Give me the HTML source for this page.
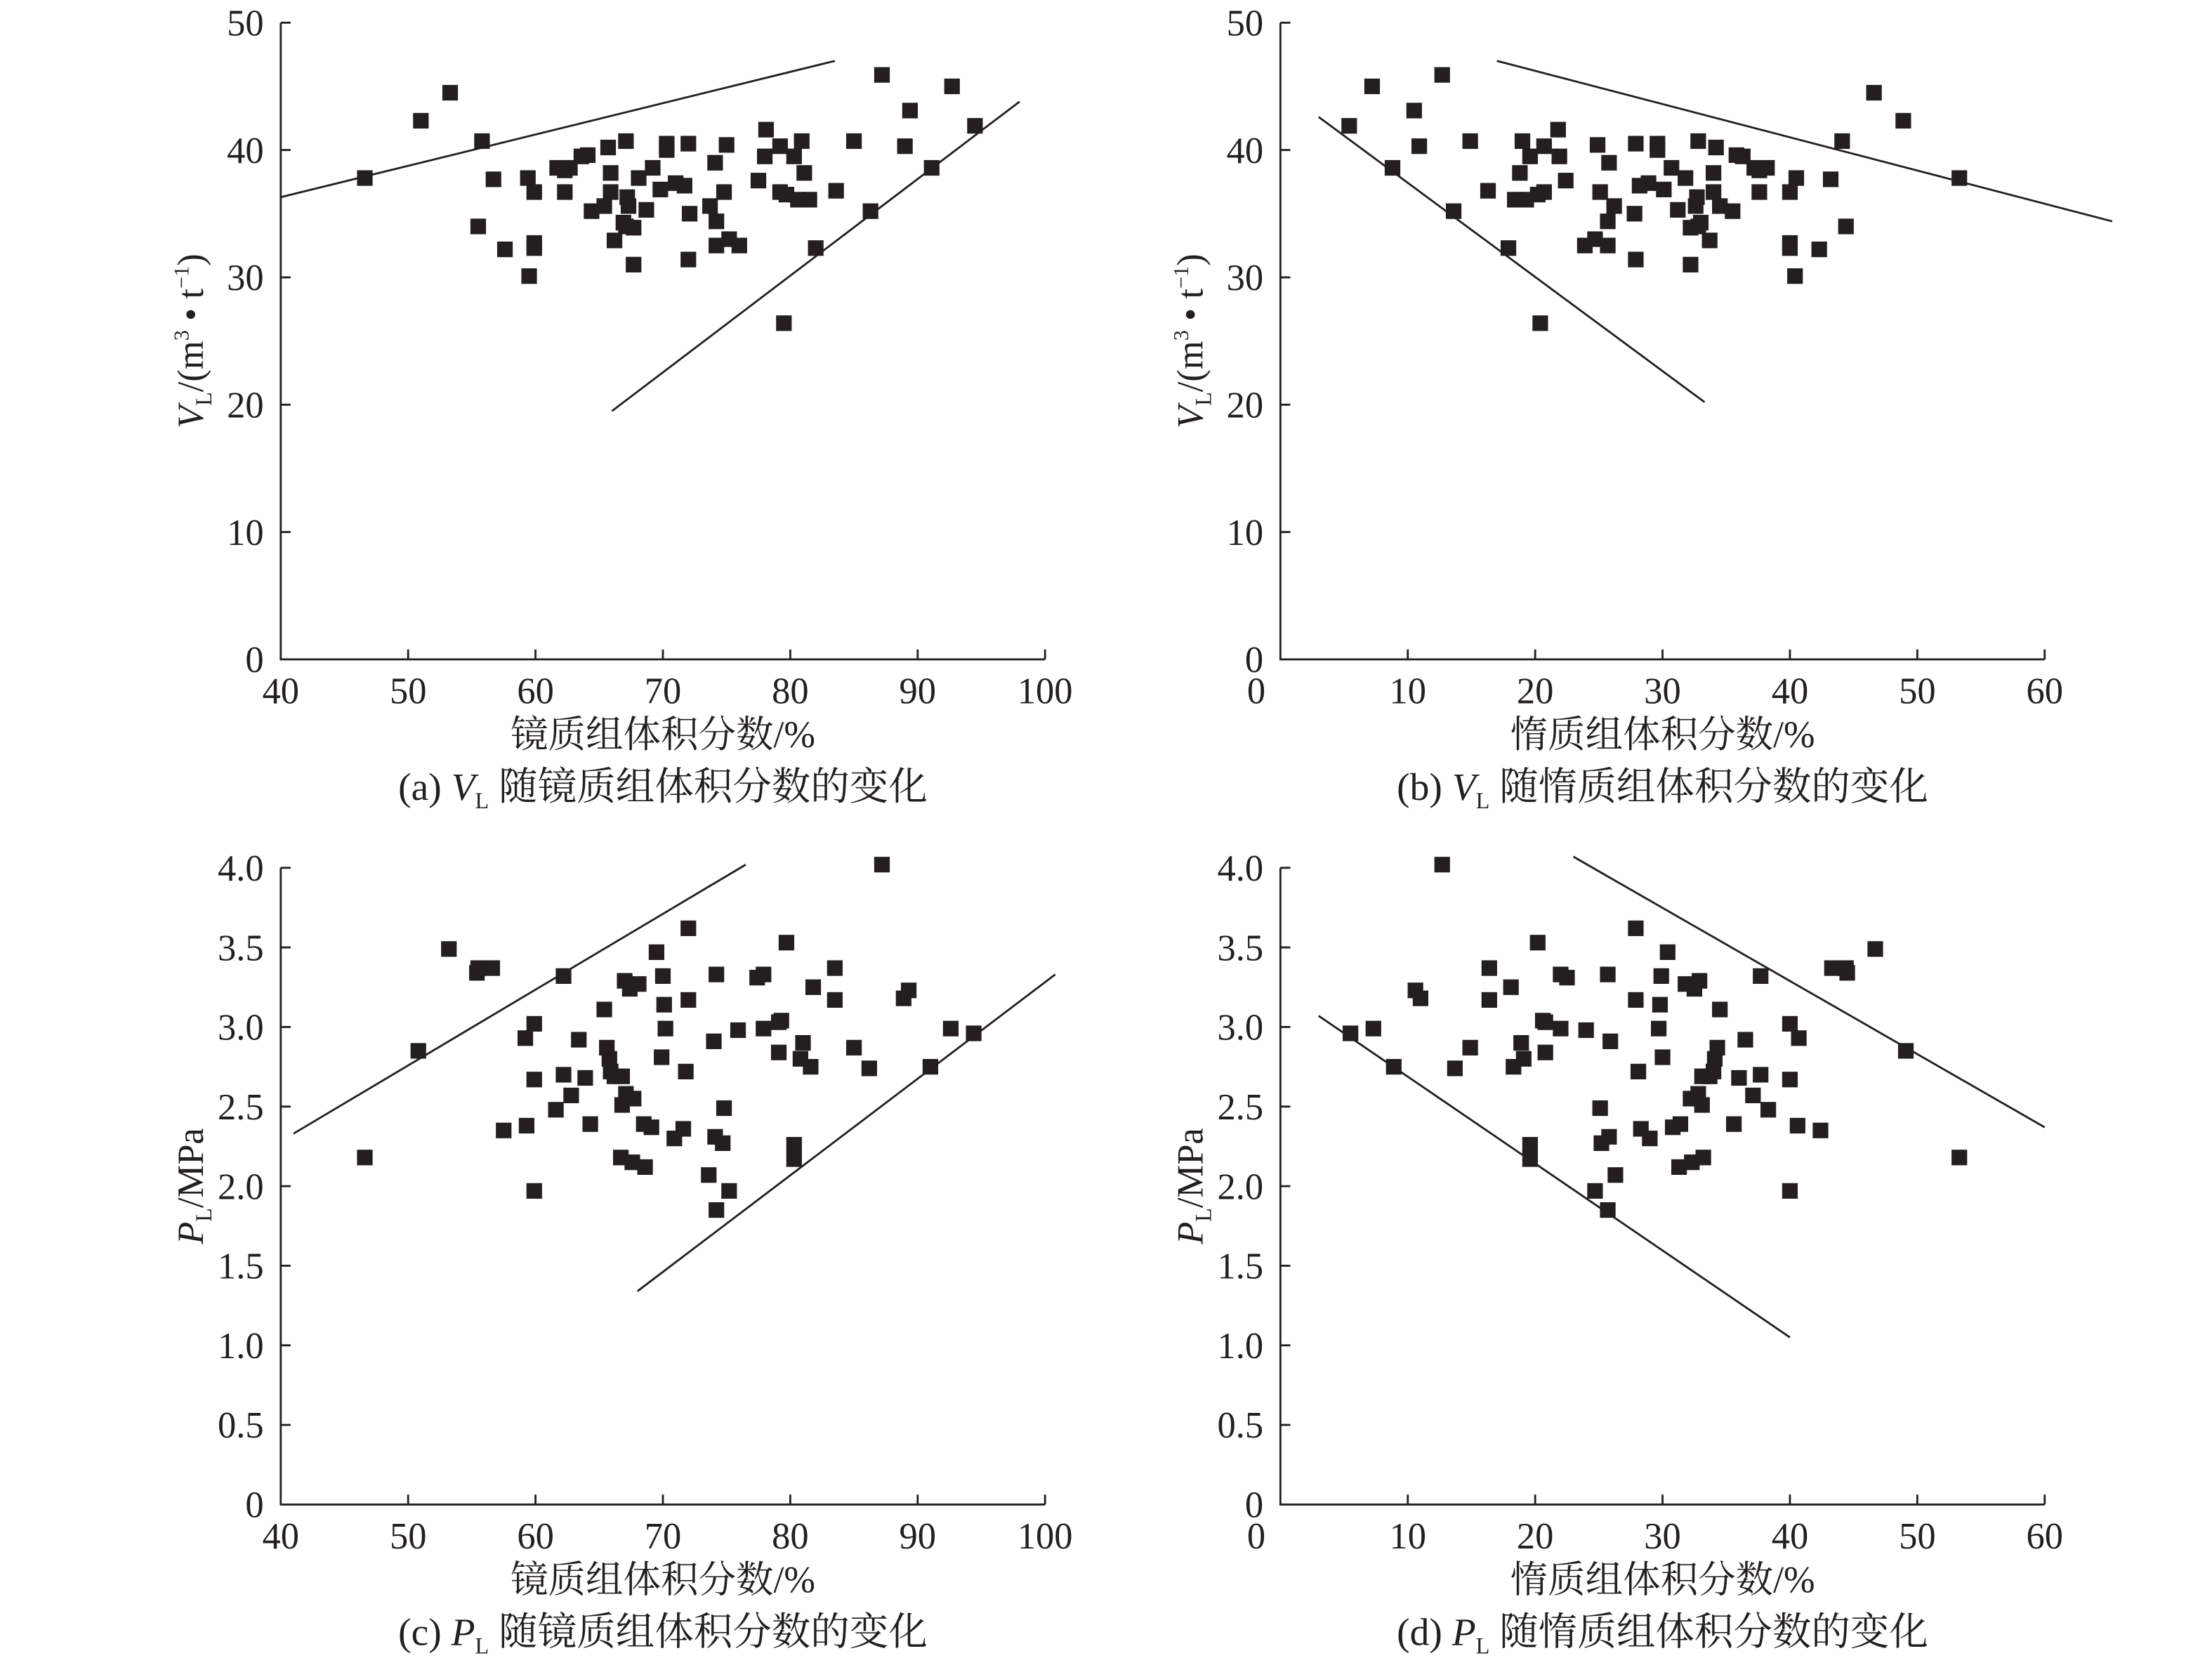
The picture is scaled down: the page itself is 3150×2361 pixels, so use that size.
<!DOCTYPE html>
<html><head><meta charset="utf-8"><style>
html,body{margin:0;padding:0;background:#fff}
svg{display:block}
text{font-family:"Liberation Serif","Noto Serif CJK SC",serif;fill:#231f20}
</style></head><body>
<svg id="fig" xmlns="http://www.w3.org/2000/svg" width="3150" height="2361" viewBox="0 0 1560 1169.25"></svg>
<script>
// ---- data ----
const aX=[46.6,51.0,53.3,55.8,55.5,56.7,57.6,59.4,59.5,59.9,59.9,59.9,61.7,62.3,62.3,62.7,63.6,64.1,64.4,65.4,65.7,65.9,65.9,66.2,67.1,67.2,67.3,66.9,67.1,67.7,67.7,68.1,68.7,69.2,69.8,70.3,70.3,71.0,71.7,72.0,72.1,72.0,73.7,74.1,74.2,74.2,74.8,75.0,75.2,76.0,77.5,78.0,78.1,79.2,79.2,79.7,80.3,80.9,81.1,80.6,81.5,79.5,82.0,83.6,85.0,86.3,87.2,89.0,89.4,91.1,92.7,94.5];
const aY=[37.8,42.3,44.5,40.7,34.0,37.7,32.2,37.8,30.1,36.7,32.7,32.3,38.6,38.4,36.7,38.6,39.5,39.6,35.2,35.6,40.2,38.2,36.7,32.9,40.7,36.3,35.6,34.3,34.0,33.9,31.0,37.8,35.3,38.6,36.9,40.5,40.0,37.4,37.2,40.5,35.0,31.4,35.6,39.0,34.4,32.5,36.7,40.4,33.0,32.5,37.6,39.5,41.6,40.3,36.7,36.5,39.5,40.7,38.2,36.1,36.1,26.4,32.3,36.8,40.7,35.2,45.9,40.3,43.1,38.6,45.0,41.9];
const bX=[53.3,48.9,46.6,44.1,44.4,43.2,42.3,40.5,40.4,40.0,40.0,40.0,38.2,37.6,37.6,37.2,36.3,35.8,35.5,34.5,34.2,34.0,34.0,33.7,32.8,32.7,32.6,33.0,32.8,32.2,32.2,31.8,31.2,30.7,30.1,29.6,29.6,28.9,28.2,27.9,27.8,27.9,26.2,25.8,25.7,25.7,25.1,24.9,24.7,23.9,22.4,21.9,21.8,20.7,20.7,20.2,19.6,19.0,18.8,19.3,18.4,20.4,17.9,16.3,14.9,13.6,12.7,10.9,10.5,8.8,7.2,5.4];
const bY=[37.8,42.3,44.5,40.7,34.0,37.7,32.2,37.8,30.1,36.7,32.7,32.3,38.6,38.4,36.7,38.6,39.5,39.6,35.2,35.6,40.2,38.2,36.7,32.9,40.7,36.3,35.6,34.3,34.0,33.9,31.0,37.8,35.3,38.6,36.9,40.5,40.0,37.4,37.2,40.5,35.0,31.4,35.6,39.0,34.4,32.5,36.7,40.4,33.0,32.5,37.6,39.5,41.6,40.3,36.7,36.5,39.5,40.7,38.2,36.1,36.1,26.4,32.3,36.8,40.7,35.2,45.9,40.3,43.1,38.6,45.0,41.9];
const cX=[94.4,92.6,91.0,89.3,88.9,87.2,86.2,85.0,83.5,83.5,81.8,81.6,81.0,80.8,80.3,80.3,79.7,79.3,79.1,79.1,77.9,77.9,77.4,75.9,75.2,74.8,74.7,74.2,74.1,74.0,74.2,73.6,72.0,72.0,71.8,71.6,70.9,70.2,70.1,70.0,69.9,69.5,69.1,68.5,68.6,68.1,67.7,67.6,67.4,67.0,67.1,66.8,66.7,66.8,66.2,65.9,65.8,65.6,65.4,64.3,63.9,63.4,62.8,62.2,62.2,61.6,59.9,59.9,59.9,59.3,59.2,57.5,56.6,55.5,55.4,53.2,50.8,46.6];
const cY=[2.96,2.99,2.75,3.23,3.18,4.02,2.74,2.87,3.37,3.17,3.25,2.75,2.90,2.80,2.26,2.17,3.53,3.04,3.03,2.84,3.33,2.99,3.31,2.98,1.97,2.49,2.27,3.33,2.31,2.91,1.85,2.07,3.62,3.17,2.72,2.36,2.30,2.99,3.14,3.32,2.81,3.47,2.37,2.39,2.12,3.27,2.55,2.15,3.24,3.29,2.58,2.51,2.18,2.69,2.69,2.72,2.80,2.87,3.11,2.39,2.68,2.92,2.57,3.32,2.70,2.48,3.02,2.67,1.97,2.38,2.93,2.35,3.37,3.37,3.34,3.49,2.85,2.18];
const dX=[5.5,7.3,8.9,10.6,11.0,12.7,13.7,14.9,16.4,16.4,18.1,18.3,18.9,19.1,19.6,19.6,20.2,20.6,20.8,20.8,22.0,22.0,22.5,24.0,24.7,25.1,25.2,25.7,25.8,25.9,25.7,26.3,27.9,27.9,28.1,28.3,29.0,29.7,29.8,29.9,30.0,30.4,30.8,31.4,31.3,31.8,32.2,32.3,32.5,32.9,32.8,33.1,33.2,33.1,33.7,34.0,34.1,34.3,34.5,35.6,36.0,36.5,37.1,37.7,37.7,38.3,40.0,40.0,40.0,40.6,40.7,42.4,43.3,44.4,44.5,46.7,49.1,53.3];
const dY=[2.96,2.99,2.75,3.23,3.18,4.02,2.74,2.87,3.37,3.17,3.25,2.75,2.90,2.80,2.26,2.17,3.53,3.04,3.03,2.84,3.33,2.99,3.31,2.98,1.97,2.49,2.27,3.33,2.31,2.91,1.85,2.07,3.62,3.17,2.72,2.36,2.30,2.99,3.14,3.32,2.81,3.47,2.37,2.39,2.12,3.27,2.55,2.15,3.24,3.29,2.58,2.51,2.18,2.69,2.69,2.72,2.80,2.87,3.11,2.39,2.68,2.92,2.57,3.32,2.70,2.48,3.02,2.67,1.97,2.38,2.93,2.35,3.37,3.37,3.34,3.49,2.85,2.18];
// boundary lines [x1,y1,x2,y2]
const aLines=[[40,36.3,83.5,47],[66,19.5,98,43.8]];
const bLines=[[17,47,65.3,34.4],[3,42.6,33.3,20.2]];
const cLines=[[41,2.33,76.5,4.02],[68,1.34,100.8,3.33]];
const dLines=[[23,4.07,60,2.37],[3,3.07,40,1.05]];
const vTicks=[0,10,20,30,40,50];
const pTicks=[0,0.5,1.0,1.5,2.0,2.5,3.0,3.5,4.0];
const pTickLabels=["0","0.5","1.0","1.5","2.0","2.5","3.0","3.5","4.0"];
const vitTicks=[40,50,60,70,80,90,100];
const ineTicks=[0,10,20,30,40,50,60];

const NS="http://www.w3.org/2000/svg";
const svg=document.getElementById('fig');
function el(tag,attrs,parent){const e=document.createElementNS(NS,tag);for(const k in attrs)e.setAttribute(k,attrs[k]);(parent||svg).appendChild(e);return e;}

function panel(p){
  const g=el('g',{});
  
  
  const sx=v=>p.x0+(v-p.xmin)/(p.xmax-p.xmin)*(p.x1-p.x0);
  const sy=v=>p.y0-(v-p.ymin)/(p.ymax-p.ymin)*(p.y0-p.y1);
  const ax=el('path',{d:`M${p.x0},${p.y1} V${p.y0} H${p.x1}`,fill:'none',stroke:'#231f20','stroke-width':1.4},g);
  
  
  p.yt.forEach((v,i)=>{
    const y=sy(v);
    if(v!==p.ymin) el('line',{x1:p.x0,x2:p.x0+7,y1:y,y2:y,stroke:'#231f20','stroke-width':1.4},g);
    const t=el('text',{x:p.x0-12,y:y+9,'font-size':26,'text-anchor':'end'},g);
    t.textContent=p.ytl[i];
    
    
  });
  p.xt.forEach((v,i)=>{
    const x=sx(v);
    if(v!==p.xmin) el('line',{x1:x,x2:x,y1:p.y0,y2:p.y0-7,stroke:'#231f20','stroke-width':1.4},g);
    const t=el('text',{x:(v===0?x-17:x),y:p.y0+31,'font-size':26,'text-anchor':'middle'},g);
    t.textContent=String(v);
    
    
  });
  p.lines.forEach(l=>{
    const ln=el('line',{x1:sx(l[0]),y1:sy(l[1]),x2:sx(l[2]),y2:sy(l[3]),stroke:'#231f20','stroke-width':1.4},g);
    
    
  });
  p.X.forEach((v,i)=>{
    const r=el('rect',{x:sx(v)-5.5,y:sy(p.Y[i])-5.5,width:11,height:11,fill:'#231f20'},g);
    
    
  });
  const cx=(p.x0+p.x1)/2;
  const xt=el('text',{x:cx,y:p.y0+62,'font-size':26.5,'text-anchor':'middle'},g);
  xt.textContent=p.xtitle;
  
  
  const cap=el('text',{x:cx,y:p.y0+99,'font-size':27.5,'text-anchor':'middle'},g);
  cap.innerHTML=p.cap;
  
  
  const yt=el('text',{transform:`translate(${p.ytx},${(p.y0+p.y1)/2}) rotate(-90)`,'font-size':26,'text-anchor':'middle'},g);
  yt.innerHTML=p.ytitle;
  
  
}
const VT='<tspan font-style="italic">V</tspan><tspan font-size="16" dy="6">L</tspan><tspan dy="-6">/(m</tspan><tspan font-size="15" dy="-10">3</tspan><tspan dy="10"> • t</tspan><tspan font-size="15" dy="-10">−1</tspan><tspan dy="10">)</tspan>';
const PT='<tspan font-style="italic">P</tspan><tspan font-size="16" dy="6">L</tspan><tspan dy="-6">/MPa</tspan>';
const vitT='镜质组体积分数/%', ineT='惰质组体积分数/%';
const vTL=vTicks.map(String);
panel({id:'a',ytx:143,x0:198,x1:737,y0:465,y1:16,xmin:40,xmax:100,ymin:0,ymax:50,xt:vitTicks,yt:vTicks,ytl:vTL,X:aX,Y:aY,lines:aLines,xtitle:vitT,ytitle:VT,
 cap:'(a) <tspan font-style="italic">V</tspan><tspan font-size="16" dy="6">L</tspan><tspan dy="-6"> 随镜质组体积分数的变化</tspan>'});
panel({id:'b',ytx:848,x0:903,x1:1442,y0:465,y1:16,xmin:0,xmax:60,ymin:0,ymax:50,xt:ineTicks,yt:vTicks,ytl:vTL,X:bX,Y:bY,lines:bLines,xtitle:ineT,ytitle:VT,
 cap:'(b) <tspan font-style="italic">V</tspan><tspan font-size="16" dy="6">L</tspan><tspan dy="-6"> 随惰质组体积分数的变化</tspan>'});
panel({id:'c',ytx:143,x0:198,x1:737,y0:1061,y1:612,xmin:40,xmax:100,ymin:0,ymax:4,xt:vitTicks,yt:pTicks,ytl:pTickLabels,X:cX,Y:cY,lines:cLines,xtitle:vitT,ytitle:PT,
 cap:'(c) <tspan font-style="italic">P</tspan><tspan font-size="16" dy="6">L</tspan><tspan dy="-6"> 随镜质组体积分数的变化</tspan>'});
panel({id:'d',ytx:848,x0:903,x1:1442,y0:1061,y1:612,xmin:0,xmax:60,ymin:0,ymax:4,xt:ineTicks,yt:pTicks,ytl:pTickLabels,X:dX,Y:dY,lines:dLines,xtitle:ineT,ytitle:PT,
 cap:'(d) <tspan font-style="italic">P</tspan><tspan font-size="16" dy="6">L</tspan><tspan dy="-6"> 随惰质组体积分数的变化</tspan>'});
</script>
</body></html>
